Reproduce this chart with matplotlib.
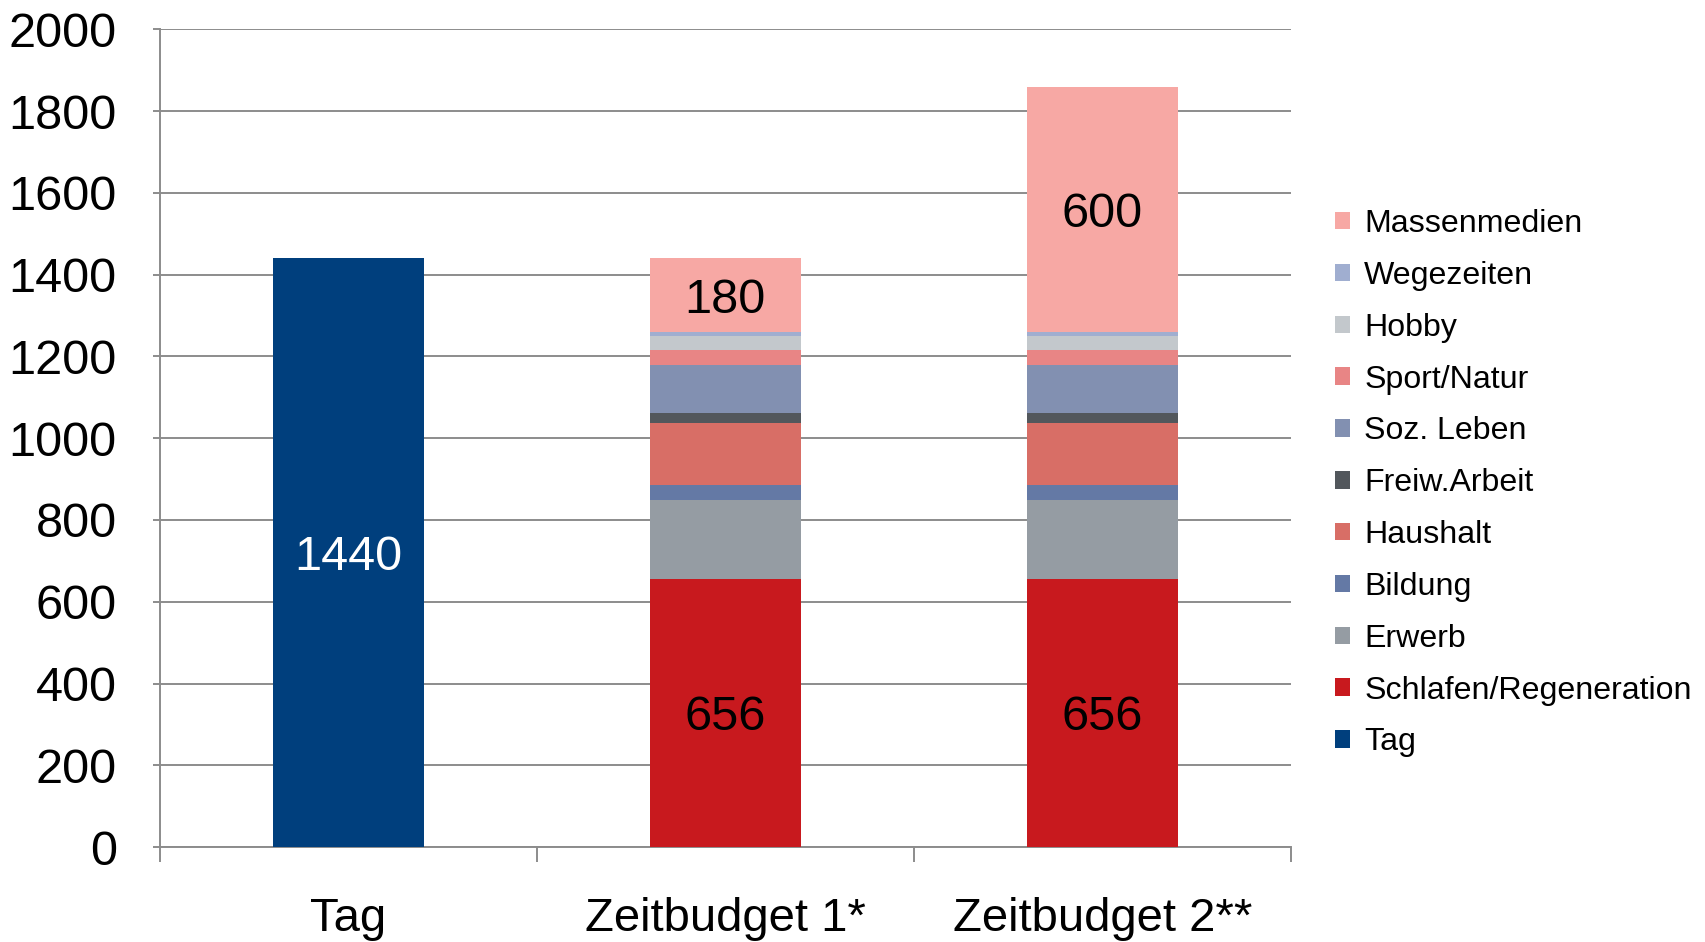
import numpy as np
import matplotlib
matplotlib.use("Agg")
import matplotlib.pyplot as plt
from matplotlib.patches import Patch

plt.rcParams['font.family'] = ['Liberation Sans', 'DejaVu Sans']

categories = ["Tag", "Zeitbudget 1*", "Zeitbudget 2**"]

# minutes per category, stacked bottom to top
series_names = ["Tag", "Schlafen/Regeneration", "Erwerb", "Bildung", "Haushalt",
                "Freiw.Arbeit", "Soz. Leben", "Sport/Natur", "Hobby",
                "Wegezeiten", "Massenmedien"]
tag = [1440, 0, 0]
schlafen = [0, 656, 656]
erwerb = [0, 193, 193]
bildung = [0, 37, 37]
haushalt = [0, 151, 151]
freiw = [0, 25, 25]
soz = [0, 116, 116]
sport = [0, 37, 37]
hobby = [0, 35, 35]
wege = [0, 10, 10]
massenmedien = [0, 180, 600]

series = [tag, schlafen, erwerb, bildung, haushalt, freiw, soz, sport,
          hobby, wege, massenmedien]
colors = ["#003f7d", "#c8191e", "#959ca3", "#6479a5", "#d86e66", "#52575c",
          "#8290b1", "#e88585", "#c3c8cc", "#a0aed0", "#f7a8a4"]

fig = plt.figure(figsize=(17.05, 9.42), dpi=100)
ax = fig.add_axes([0.0938, 0.1008, 0.757 - 0.0938, 0.9688 - 0.1008])

x = np.arange(len(categories))
bottom = np.zeros(len(categories))
for name, vals, col in zip(series_names, series, colors):
    vals = np.array(vals, dtype=float)
    ax.bar(x, vals, width=0.4, bottom=bottom, color=col, linewidth=0, zorder=3)
    bottom += vals

# value labels in the middle of segments
lbl = dict(ha='center', va='center_baseline', fontsize=35, zorder=4)
ax.text(0, tag[0] / 2, str(tag[0]), color='white', **lbl)
for i in (1, 2):
    ax.text(i, schlafen[i] / 2, str(schlafen[i]), **lbl)
    top = bottom[i]
    ax.text(i, top - massenmedien[i] / 2, str(massenmedien[i]), **lbl)

ax.set_ylim(0, 2000)
ax.set_xlim(-0.5, 2.5)
ax.set_yticks(range(0, 2001, 200))
ax.yaxis.grid(True, color='#8c8c8c', linewidth=1.4, zorder=0)
ax.tick_params(axis='y', labelsize=35, length=5, color='#8c8c8c', width=1.4, pad=26)

ax.set_xticks(x)
ax.set_xticklabels(categories)
ax.tick_params(axis='x', which='major', length=0, labelsize=34, pad=36)
ax.set_xticks([-0.5, 0.5, 1.5, 2.5], minor=True)
ax.tick_params(axis='x', which='minor', length=11, color='#8c8c8c', width=1.4)

for s in ('top', 'right'):
    ax.spines[s].set_visible(False)
for s in ('left', 'bottom'):
    ax.spines[s].set_color('#8c8c8c')
    ax.spines[s].set_linewidth(1.4)

handles = [Patch(facecolor=c, label=n) for n, c in zip(series_names, colors)][::-1]
fig.legend(handles=handles, loc='center left', bbox_to_anchor=(0.766, 0.487),
           frameon=False, fontsize=23.1, handlelength=0.46, handleheight=0.46,
           handletextpad=0.45, labelspacing=0.68)

fig.savefig("out.png", dpi=100)
